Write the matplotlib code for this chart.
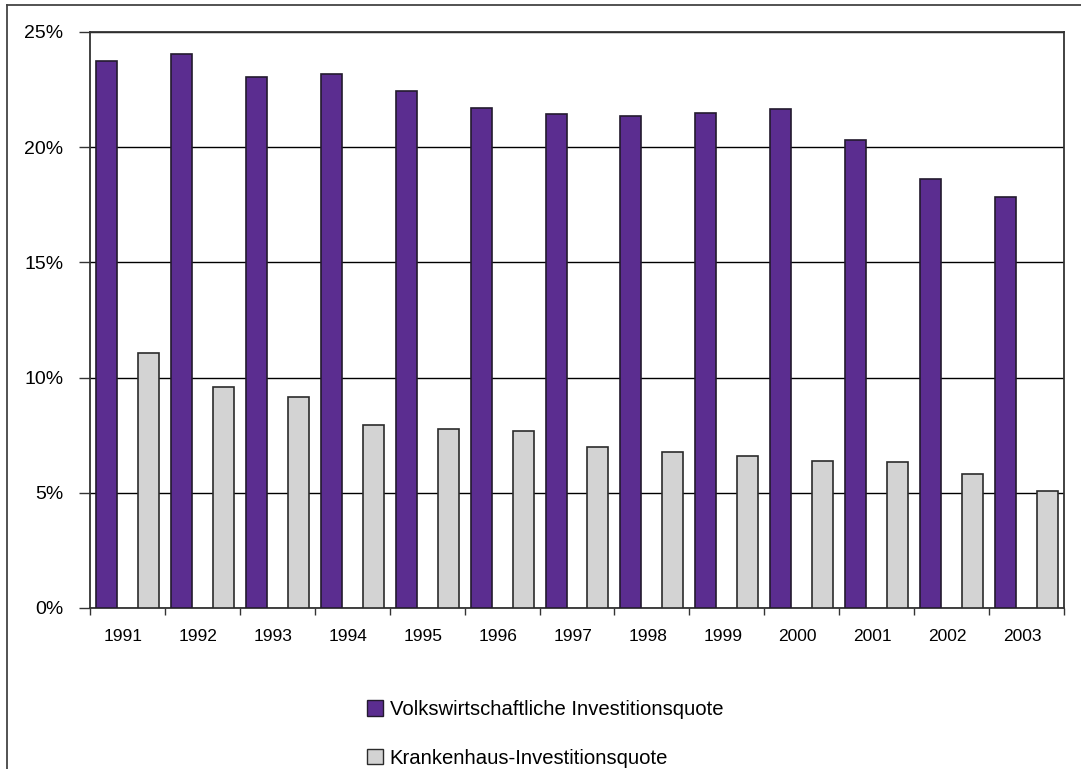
import matplotlib.pyplot as plt
import numpy as np
from matplotlib.lines import Line2D
from matplotlib.patches import Patch
from matplotlib.transforms import ScaledTranslation

plt.rcParams['font.family'] = ['Liberation Sans', 'DejaVu Sans']

years = ['1991', '1992', '1993', '1994', '1995', '1996', '1997',
         '1998', '1999', '2000', '2001', '2002', '2003']
volkswirtschaft = [23.74, 24.04, 23.05, 23.18, 22.44, 21.70, 21.44,
                   21.35, 21.48, 21.66, 20.31, 18.62, 17.84]
krankenhaus = [11.07, 9.59, 9.16, 7.94, 7.77, 7.68, 6.99,
               6.77, 6.60, 6.38, 6.34, 5.82, 5.08]
labels = ['Volkswirtschaftliche Investitionsquote', 'Krankenhaus-Investitionsquote']

purple = '#5B2D90'
grey = '#D3D3D3'

fig = plt.figure(figsize=(10.81, 7.69), dpi=100)
ax = fig.add_axes([90 / 1081, 1 - 608 / 769, 974 / 1081, 576 / 769])

x = np.arange(len(years))
w = 0.28
ax.bar(x - w, volkswirtschaft, w, color=purple, edgecolor='#231a2e', linewidth=1.2, zorder=3)
ax.bar(x + w, krankenhaus, w, color=grey, edgecolor='#2b2b2b', linewidth=1.2, zorder=3)

ax.set_xlim(-0.5, len(years) - 0.5)
ax.set_ylim(0, 25)
ax.set_yticks([0, 5, 10, 15, 20, 25])
ax.set_yticklabels([f'{v}%' for v in [0, 5, 10, 15, 20, 25]], fontsize=14)
ax.yaxis.grid(True, color='black', linewidth=1, zorder=0)
ax.tick_params(axis='y', length=8, width=1, color='#333333', pad=11)

ax.set_xticks(np.arange(len(years) + 1) - 0.5)
ax.set_xticklabels([])
ax.tick_params(axis='x', which='major', length=5, width=1, color='#333333')
ax.set_xticks(x, minor=True)
ax.set_xticklabels(years, minor=True, fontsize=12.5)
ax.tick_params(axis='x', which='minor', length=0, pad=15)
shift = ScaledTranslation(-4 / 100, 0, fig.dpi_scale_trans)
for lab in ax.get_xticklabels(minor=True):
    lab.set_transform(lab.get_transform() + shift)

for s in ax.spines.values():
    s.set_color('#333333')
    s.set_linewidth(1.3)

handles = [Patch(facecolor=purple, edgecolor='#231a2e'),
           Patch(facecolor=grey, edgecolor='#2b2b2b')]
fig.legend(handles, labels, loc='center left', bbox_to_anchor=(349 / 1081, 1 - 734 / 769),
           frameon=False, fontsize=14.6, handlelength=0.8, handleheight=0.8,
           handletextpad=0.3, labelspacing=1.45)

# outer chart border (left and top only, rest is cropped)
fig.add_artist(Line2D([7 / 1081, 7 / 1081], [0, 1 - 5 / 769], color='#444444', linewidth=1.3))
fig.add_artist(Line2D([7 / 1081, 1], [1 - 5 / 769, 1 - 5 / 769], color='#444444', linewidth=1.3))

fig.savefig('out.png', dpi=100)
